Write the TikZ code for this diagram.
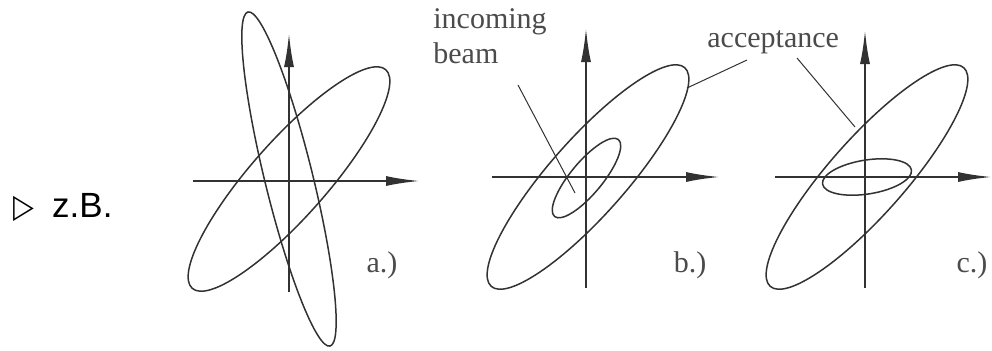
\documentclass[tikz,border=0pt]{standalone}
\usepackage{fontspec}
\usepackage{graphicx}
\setmainfont{Liberation Serif}
\newfontfamily\sansf{Liberation Sans}
\newfontfamily\symf{DejaVu Sans}
\usetikzlibrary{arrows.meta}
\definecolor{ink}{RGB}{50,50,50}
\definecolor{txt}{RGB}{75,75,75}
\begin{document}
\begin{tikzpicture}[x=0.5pt,y=-0.5pt,
  axis/.style={ink, line width=1.1pt, -{Latex[length=17pt,width=5pt]}},
  ell/.style={ink, line width=0.75pt},
  lead/.style={ink, line width=0.5pt},
  lbl/.style={txt, font=\fontsize{15}{17.5}\selectfont, inner sep=0pt}]
\useasboundingbox (0,0) rectangle (992,350);

% bullet
\node[anchor=base west, inner sep=0pt, font=\sansf\fontsize{17.5}{20}\selectfont] (zb) at (13,217) {\scalebox{0.82}[1]{\symf\fontsize{16.5}{18}\selectfont ▷}\hspace{9pt}z.B.};

% panel a
\coordinate (aO) at (289,179);
\coordinate (aL) at (193,181);
\coordinate (aR) at (420,181);
\coordinate (aB) at (289,292);
\coordinate (aT) at (289,33);
\draw[axis] (aL) -- (aR);
\draw[axis] (aB) -- (aT);
\draw[ell, rotate around={48.5:(aO)}] (aO) ellipse [x radius=146, y radius=38];
\draw[ell, rotate around={103.8:(aO)}] (aO) ellipse [x radius=172, y radius=24];
\node[lbl, anchor=base] (la) at (382,272) {a.)};

% panel b
\coordinate (bO) at (588,177);
\coordinate (bI) at (586.5,178);
\coordinate (bL) at (492,177);
\coordinate (bR) at (720,177);
\coordinate (bB) at (586,288);
\coordinate (bT) at (586,28);
\draw[axis] (bL) -- (bR);
\draw[axis] (bB) -- (bT);
\draw[ell, rotate around={48.5:(bO)}] (bO) ellipse [x radius=146, y radius=38];
\draw[ell, rotate around={50.3:(bI)}] (bI) ellipse [x radius=50, y radius=16];
\node[lbl, anchor=base] (lb) at (690,272) {b.)};

% panel c
\coordinate (cO) at (867,177);
\coordinate (cL) at (775,177);
\coordinate (cR) at (992,177);
\coordinate (cB) at (865,288);
\coordinate (cT) at (865,30);
\draw[axis] (cL) -- (cR);
\draw[axis] (cB) -- (cT);
\draw[ell, rotate around={48.5:(cO)}] (cO) ellipse [x radius=146, y radius=38];
\draw[ell, rotate around={9:(cO)}] (cO) ellipse [x radius=45, y radius=17];
\node[lbl, anchor=base] (lc) at (972,272) {c.)};

% labels and leaders
\node[lbl, anchor=base west, align=left] (inc) at (433,63) {incoming\\beam};
\node[lbl, anchor=base west] (acc) at (707,47) {acceptance};
\coordinate (incS) at (518,85);
\coordinate (incE) at (575,193);
\coordinate (accS1) at (747,60);
\coordinate (accE1) at (687,88);
\coordinate (accS2) at (797,58);
\coordinate (accE2) at (855,127);
\draw[lead] (incS) -- (incE);
\draw[lead] (accS1) -- (accE1);
\draw[lead] (accS2) -- (accE2);
\end{tikzpicture}
\end{document}
